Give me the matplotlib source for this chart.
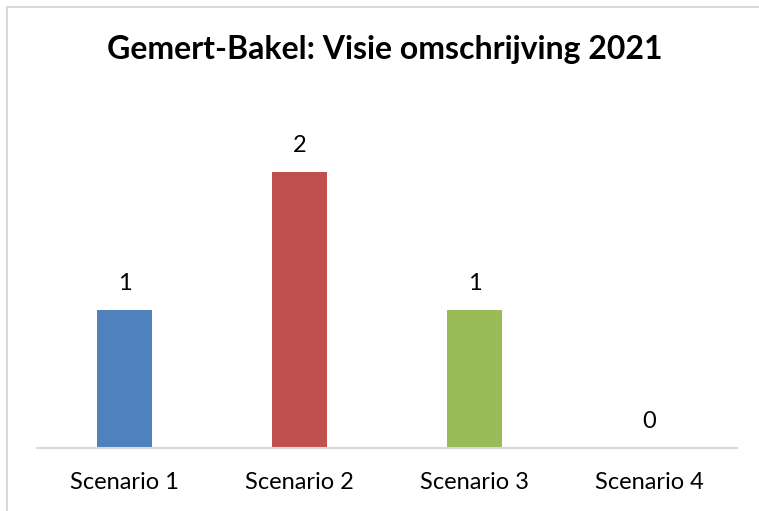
import matplotlib
matplotlib.use('Agg')
import matplotlib.pyplot as plt
from matplotlib.lines import Line2D

categories = ['Scenario 1', 'Scenario 2', 'Scenario 3', 'Scenario 4']
values = [1, 2, 1, 0]
colors = ['#4F81BD', '#C0504D', '#9BBB59', '#8064A2']
title = 'Gemert-Bakel: Visie omschrijving 2021'

plt.rcParams['font.family'] = ['Lato', 'DejaVu Sans']

fig = plt.figure(figsize=(7.59, 5.11), dpi=100)
ax = fig.add_axes([37 / 759, 63 / 511, 700 / 759, 345 / 511])

x = range(len(categories))
ax.bar(x, values, width=55 / 175, color=colors, zorder=2)
ax.set_xlim(-0.5, len(categories) - 0.5)
ax.set_ylim(0, 2.5)

for xi, v in zip(x, values):
    ax.annotate(str(v), (xi, v), xytext=(0, 27), textcoords='offset pixels',
                ha='center', va='center', fontsize=17, color='black')

for s in ['top', 'right', 'left']:
    ax.spines[s].set_visible(False)
ax.spines['bottom'].set_color('#D9D9D9')
ax.spines['bottom'].set_linewidth(1.5)
ax.set_yticks([])
ax.set_xticks(list(x))
ax.set_xticklabels(categories, fontsize=17)
ax.tick_params(axis='x', length=0, pad=17)

fig.text(385 / 759, 1 - 49 / 511, title, ha='center', va='center',
         fontsize=23, fontweight='bold')

# chart area border (top and left)
fig.add_artist(Line2D([6.5 / 759, 6.5 / 759], [0, 1 - 7 / 511],
                      transform=fig.transFigure, color='#D9D9D9', lw=1.5))
fig.add_artist(Line2D([6.5 / 759, 1], [1 - 7 / 511, 1 - 7 / 511],
                      transform=fig.transFigure, color='#D9D9D9', lw=1.5))

fig.savefig('out.png', dpi=100)
